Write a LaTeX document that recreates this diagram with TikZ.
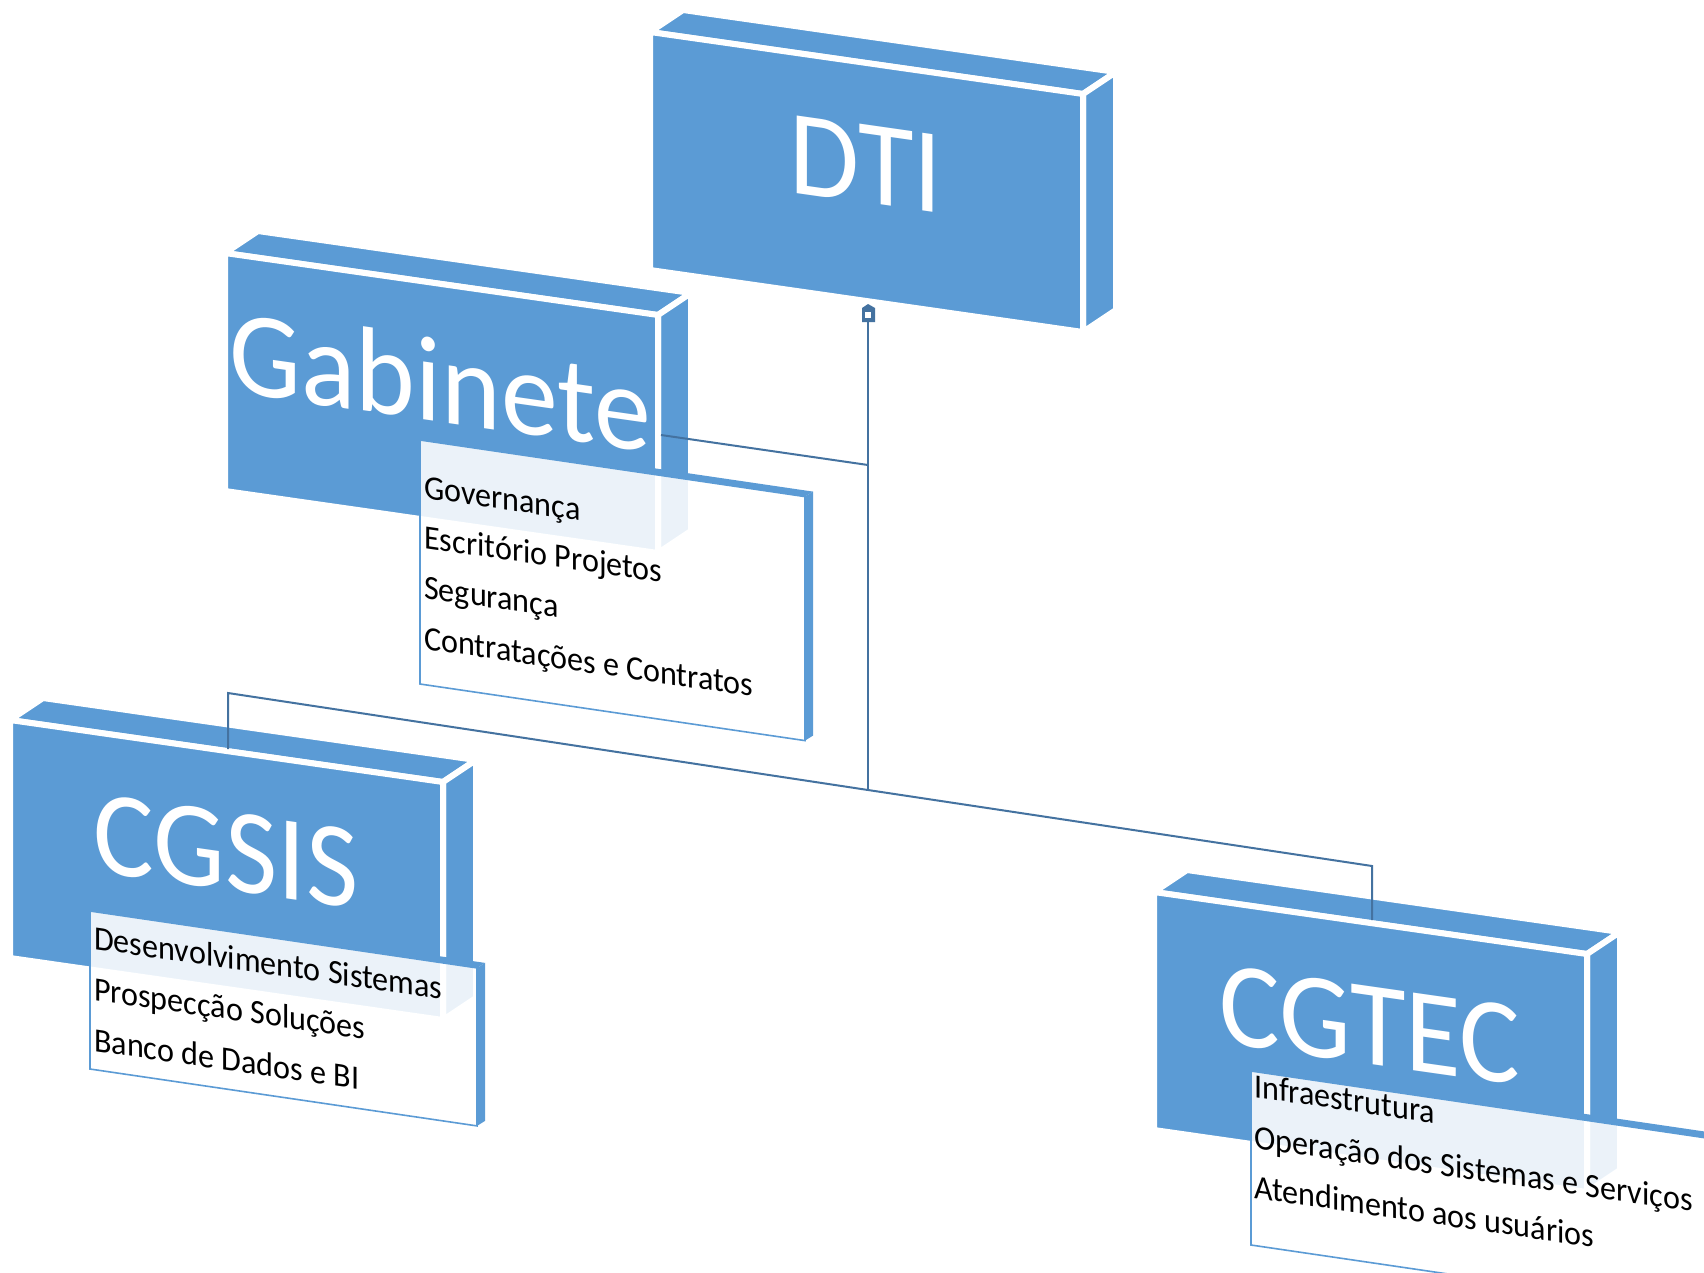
\documentclass[tikz,border=0pt]{standalone}
\usepackage{fontspec}
\setmainfont{Carlito}
\usetikzlibrary{calc}
\definecolor{boxblue}{RGB}{91,155,213}
\definecolor{linkblue}{RGB}{68,114,160}
\tikzset{
  face/.style={fill=boxblue, draw=white, line width=6pt, line join=round},
  slab/.style={fill=boxblue},
  sheet/.style={fill=white, fill opacity=0.88, draw=boxblue, line width=1.6pt},
  link/.style={draw=linkblue, line width=2pt},
  lbl/.style={text=white, font=\fontsize{121}{121}\selectfont, inner sep=0pt, anchor=base, yslant=-0.143, xscale=0.94},
  item/.style={text=black, font=\fontsize{34}{34}\selectfont, inner sep=0pt, anchor=base west, yslant=-0.145, xscale=0.945}
}
% 3D block: name, x, y of the front top-left corner
\newcommand\orgblock[3]{%
  \coordinate (#1-tl) at (#2,#3);
  \coordinate (#1-tr) at (#2+433,#3+62);
  \coordinate (#1-br) at (#2+433,#3+300);
  \coordinate (#1-bl) at (#2,#3+238);
  \path[face] (#1-tl) -- ($(#1-tl)+(33,-22)$) -- ($(#1-tr)+(33,-22)$) -- (#1-tr) -- cycle;
  \path[face] (#1-tr) -- ($(#1-tr)+(33,-22)$) -- ($(#1-br)+(33,-22)$) -- (#1-br) -- cycle;
  \path[face] (#1-tl) -- (#1-tr) -- (#1-br) -- (#1-bl) -- cycle;
}
% list sheet: name, x, y, width, height
\newcommand\orgsheet[5]{%
  \coordinate (#1-tl) at (#2,#3);
  \coordinate (#1-tr) at (#2+#4,#3+0.147*#4);
  \coordinate (#1-br) at (#2+#4,#3+0.147*#4+#5);
  \coordinate (#1-bl) at (#2,#3+#5);
  \fill[slab] (#1-tl) -- ($(#1-tl)+(8,-5)$) -- ($(#1-tr)+(8,-5)$) -- (#1-tr) -- cycle;
  \fill[slab] (#1-tr) -- ($(#1-tr)+(8,-5)$) -- ($(#1-br)+(8,-5)$) -- (#1-br) -- cycle;
  \path[sheet] (#1-tl) -- (#1-tr) -- (#1-br) -- (#1-bl) -- cycle;
}
\begin{document}
\begin{tikzpicture}[x=1pt,y=-1pt]
\useasboundingbox (0,0) rectangle (1704,1272);
\fill[white] (0,0) rectangle (1704,1272);
\clip (0,0) rectangle (1704,1272);

% blocks
\orgblock{dti}{650}{32}
\orgblock{gab}{225}{253}
\orgblock{sis}{10}{720}
\orgblock{tec}{1154}{892}

% connector points
\coordinate (handle) at (868,316);
\coordinate (junction) at (868,790);
\coordinate (busL) at (228,693);
\coordinate (busR) at (1372,866);
\coordinate (sisTop) at (228,749);
\coordinate (tecTop) at (1372,920);
\coordinate (gabSide) at (661,435);
\coordinate (gabJoin) at (868,465);

% connectors
\draw[link] (handle) -- (junction);
\draw[link] (gabSide) -- (gabJoin);
\draw[link] (sisTop) -- (busL) -- (junction) -- (busR) -- (tecTop);
\fill[linkblue] (862,308) -- (868,304) -- (875,308) -- (875,322) -- (862,322) -- cycle;
\fill[white] (865,312) rectangle (871,318);

% labels
\node[lbl] (dtilabel) at (866,203) {DTI};
\node[lbl] (gablabel) at (440,422) {Gabinete};
\node[lbl] (sislabel) at (226,890) {CGSIS};
\node[lbl] (teclabel) at (1370,1064) {CGTEC};

% sheets
\orgsheet{gabs}{420}{440}{385}{244}
\orgsheet{siss}{90}{911}{387}{158}
\orgsheet{tecs}{1251}{1071}{480}{174}

% items
\node[item] (g1) at (424,498) {Governança};
\node[item] (g2) at (424,548) {Escritório Projetos};
\node[item] (g3) at (424,598) {Segurança};
\node[item] (g4) at (424,649) {Contratações e Contratos};

\node[item] (s1) at (94,949) {Desenvolvimento Sistemas};
\node[item] (s2) at (94,1000) {Prospecção Soluções};
\node[item] (s3) at (94,1051) {Banco de Dados e BI};

\node[item] (t1) at (1254,1097) {Infraestrutura};
\node[item] (t2) at (1254,1148) {Operação dos Sistemas e Serviços};
\node[item] (t3) at (1254,1198) {Atendimento aos usuários};
\end{tikzpicture}
\end{document}
